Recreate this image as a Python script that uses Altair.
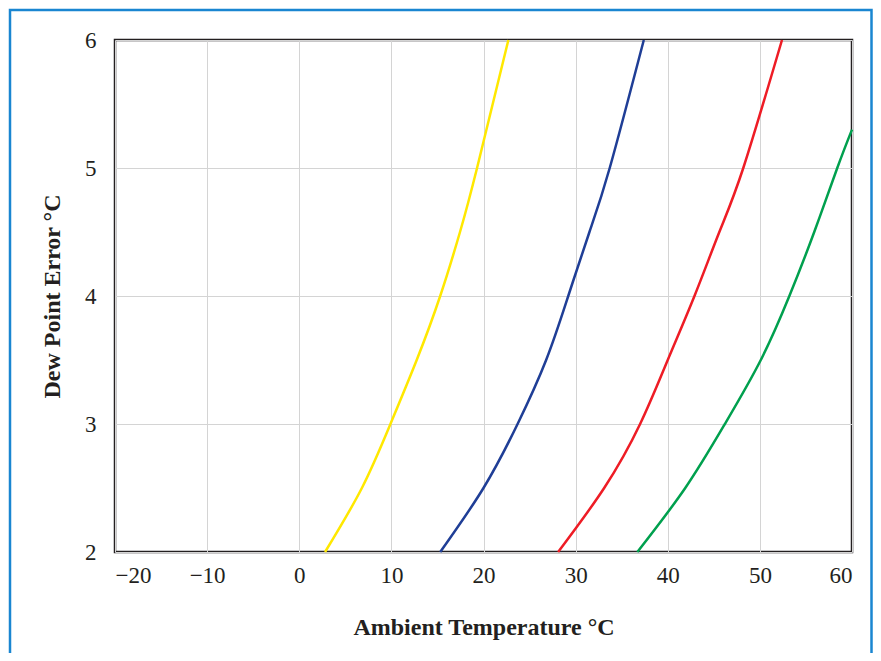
import altair as alt
import pandas as pd

# Dew point error curves read at E = 2, 2.5, 3, 3.5, 4, 4.5, 5, 6
E_levels = [2.0, 2.5, 3.0, 3.5, 4.0, 4.5, 5.0, 6.0]

yellow_T = [2.8, 6.8, 9.9, 12.75, 15.3, 17.45, 19.3, 22.7]
blue_T = [15.3, 20.0, 23.7, 26.8, 29.2, 31.5, 33.7, 37.4]
red_T = [28.1, 33.1, 37.0, 40.0, 42.9, 45.6, 48.2, 52.4]
# green leaves the plot at the right edge (60 °C) at about 5.3
green_T = [36.7, 41.9, 46.2, 50.1, 53.2, 55.9, 58.4, 60.0]
green_E = [2.0, 2.5, 3.0, 3.5, 4.0, 4.5, 5.0, 5.3]

series = ["yellow", "blue", "red", "green"]
colors = ["#ffe800", "#1f3e96", "#ee1c25", "#00a04e"]

x_ticks = [-20, -10, 0, 10, 20, 30, 40, 50, 60]
y_ticks = [2, 3, 4, 5, 6]

rows = []
for name, T, E in [("yellow", yellow_T, E_levels), ("blue", blue_T, E_levels),
                   ("red", red_T, E_levels), ("green", green_T, green_E)]:
    for i, (t, e) in enumerate(zip(T, E)):
        rows.append({"series": name, "T": t, "E": e, "order": i})
df = pd.DataFrame(rows)

FONT = "Liberation Serif"

lines = alt.Chart(df).mark_line(strokeWidth=2.5, interpolate="natural").encode(
    x=alt.X("T:Q", scale=alt.Scale(domain=[-20, 60], nice=False),
            axis=alt.Axis(values=x_ticks, title="Ambient Temperature °C",
                          labelExpr="replace(datum.label, '-', '–')")),
    y=alt.Y("E:Q", scale=alt.Scale(domain=[2, 6], nice=False),
            axis=alt.Axis(values=y_ticks, title="Dew Point Error °C")),
    color=alt.Color("series:N", scale=alt.Scale(domain=series, range=colors), legend=None),
    order="order:Q",
)

frame = alt.Chart(pd.DataFrame({"a": [0]})).mark_rect(
    fill=None, stroke="#1a86d1", strokeWidth=2.5, clip=False
).encode(
    x=alt.value(-105), x2=alt.value(756.5),
    y=alt.value(-30), y2=alt.value(660),
)

chart = alt.layer(frame, lines).properties(
    width=737, height=512,
    autosize=alt.AutoSizeParams(type="none"),
    padding={"left": 107, "top": 32, "right": 21, "bottom": 101},
).configure_view(
    stroke="#231f20", strokeWidth=2.5
).configure_axis(
    domain=False, ticks=False, grid=True, gridColor="#d4d4d4", gridWidth=1,
    labelFont=FONT, labelFontSize=23, labelColor="#231f20",
    titleFont=FONT, titleFontSize=24, titleFontWeight="bold", titleColor="#231f20",
).configure_axisX(
    labelPadding=12, titlePadding=28,
).configure_axisY(
    labelPadding=19, titlePadding=20,
)

chart.save("out.html", embed_options={"renderer": "svg", "actions": False})
